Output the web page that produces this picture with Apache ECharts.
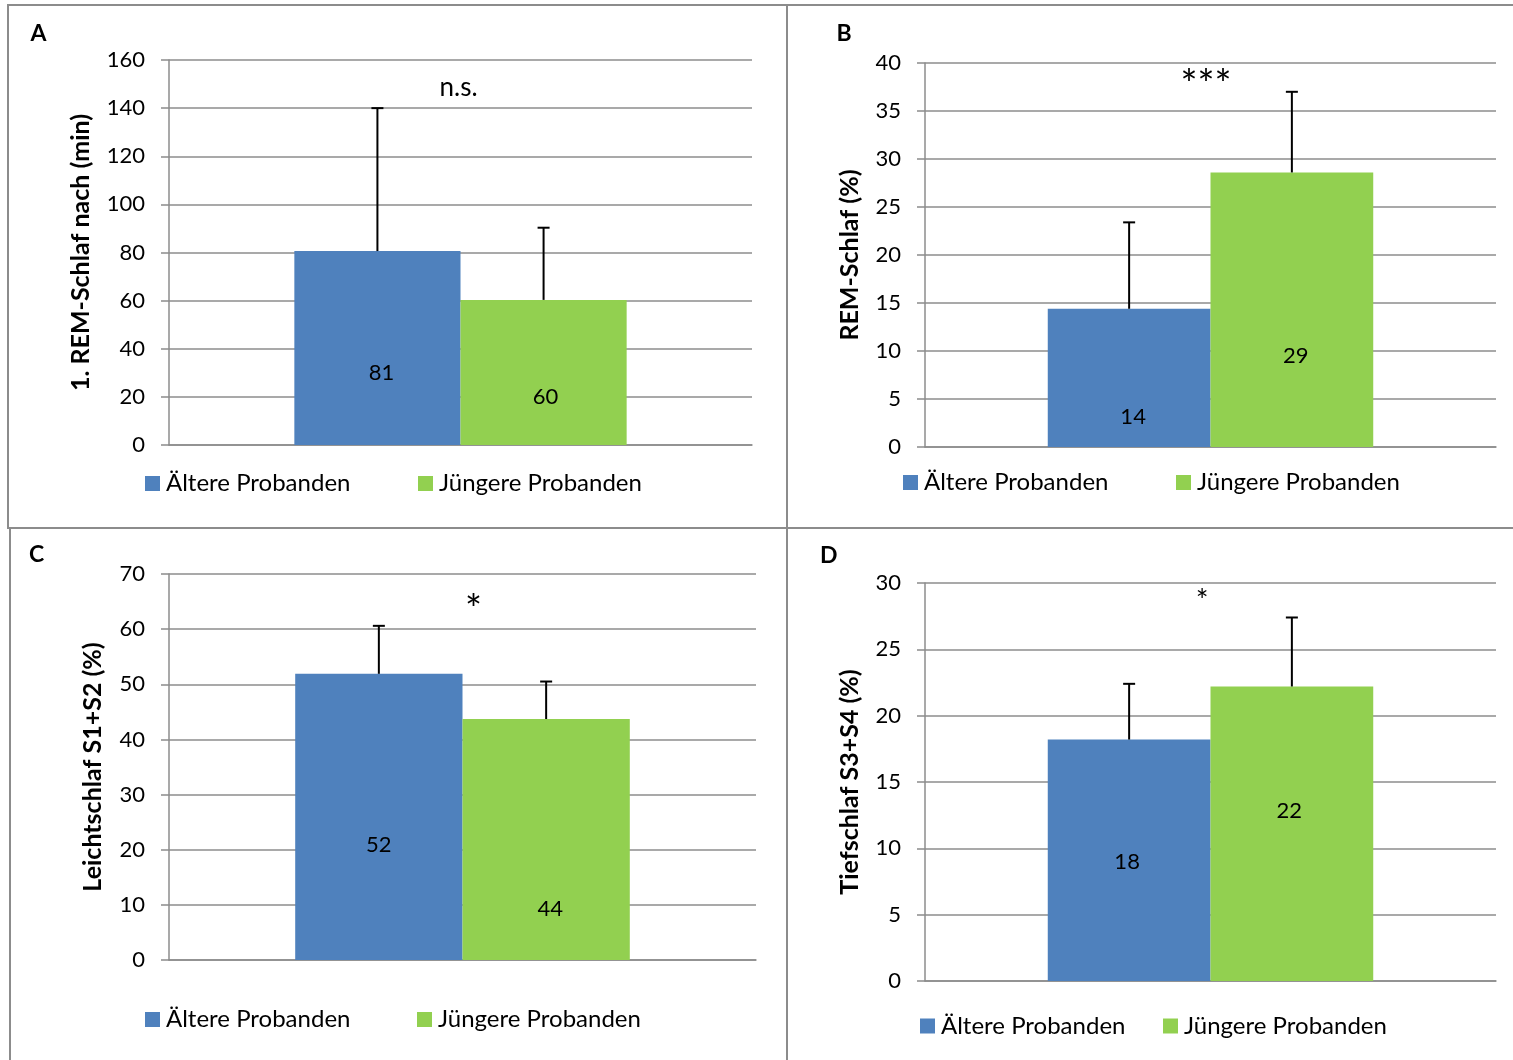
<!DOCTYPE html>
<html>
<head>
<meta charset="utf-8">
<script src="https://cdn.jsdelivr.net/npm/echarts@6/dist/echarts.min.js"></script>
<style>
html,body{margin:0;padding:0;background:#fff;}
#chart{width:1513px;height:1060px;}
</style>
</head>
<body>
<div id="chart"></div>
<script>
// ---- data ----
const categories = [''];
const seriesNames = ['Ältere Probanden', 'Jüngere Probanden'];
const panelLetters = ['A', 'B', 'C', 'D'];
const axisTitles = ['1. REM-Schlaf nach (min)', 'REM-Schlaf (%)', 'Leichtschlaf S1+S2 (%)', 'Tiefschlaf S3+S4 (%)'];
const yMax = [160, 40, 70, 30];
const yStep = [20, 5, 10, 5];
const aelterValues = [80.6, 14.4, 51.9, 18.2];
const juengerValues = [60.3, 28.6, 43.7, 22.2];
const aelterSD = [59.4, 9.0, 8.7, 4.2];
const juengerSD = [30.0, 8.4, 6.8, 5.2];
const significance = ['n.s.', '***', '*', '*'];

// ---- layout / style ----
const FONT = 'Lato';
const GRAY = '#8c8c8c';
const COLORS = ['#4F81BD', '#92D050'];
const GAP = 0.43;
const grids = [
  {left: 169, top: 60, width: 583, height: 385},
  {left: 925, top: 63, width: 571, height: 384},
  {left: 169, top: 574, width: 587, height: 386},
  {left: 925, top: 583, width: 571, height: 398}
];
const nameGaps = [76, 63, 64, 63];
const labelOffsets = [[[4, 24.5], [2, 24.5]], [[4, 39.5], [4, 46.5]], [[0, 28], [4, 69]], [[-2, 1.5], [-2.5, -22.5]]];
const legendPos = [[[145, 483.5], [418, 483.5]], [[903, 482.5], [1176, 482.5]], [[145, 1019.5], [417, 1019.5]], [[920, 1026], [1163, 1026]]];
const letterPos = [[39.5, 35.5], [845.5, 35.5], [38, 556.5], [829, 557]];
const sigPos = [[458.5, 88, 26], [1206, 86, 40], [473.5, 611, 40], [1202, 601, 30]];

const option = {
  animation: false,
  backgroundColor: '#fff',
  grid: grids.map(g => Object.assign({containLabel: false}, g)),
  xAxis: grids.map((g, i) => ({
    type: 'category', gridIndex: i, data: categories,
    axisLine: {show: true, lineStyle: {color: GRAY, width: 1.5}},
    axisTick: {show: false}, axisLabel: {show: false}, splitLine: {show: false}
  })),
  yAxis: grids.map((g, i) => ({
    type: 'value', gridIndex: i, min: 0, max: yMax[i], interval: yStep[i],
    name: axisTitles[i], nameLocation: 'middle', nameGap: nameGaps[i],
    nameTextStyle: {fontFamily: FONT, fontWeight: 'bold', fontSize: 25, color: '#000'},
    axisLine: {show: true, lineStyle: {color: GRAY, width: 1.5}},
    axisTick: {show: true, inside: false, length: 8, lineStyle: {color: GRAY, width: 1.5}},
    axisLabel: {margin: 24, fontFamily: FONT, fontSize: 22, color: '#000'},
    splitLine: {show: true, lineStyle: {color: GRAY, width: 1.5}}
  })),
  legend: [],
  series: [],
  graphic: []
};

const valueSets = [aelterValues, juengerValues];
const sdSets = [aelterSD, juengerSD];

for (let p = 0; p < 4; p++) {
  for (let s = 0; s < 2; s++) {
    option.series.push({
      type: 'bar', name: seriesNames[s], xAxisIndex: p, yAxisIndex: p,
      data: [valueSets[s][p]],
      barGap: '0%', barCategoryGap: (GAP * 100) + '%',
      itemStyle: {color: COLORS[s]},
      label: {
        show: true, position: 'inside', offset: labelOffsets[p][s],
        fontFamily: FONT, fontSize: 22, color: '#000',
        formatter: d => String(Math.round(d.value))
      },
      z: 2
    });
    const side = s === 0 ? -1 : 1;
    option.series.push({
      type: 'custom', name: seriesNames[s] + ' SD', xAxisIndex: p, yAxisIndex: p,
      data: [[0, valueSets[s][p], valueSets[s][p] + sdSets[s][p]]],
      encode: {x: 0, y: [1, 2]},
      z: 3, silent: true,
      renderItem: (params, api) => {
        const band = api.size([1, 0])[0];
        const barW = band * (1 - GAP) / 2;
        const cx = api.coord([0, 0])[0] + side * barW / 2;
        const y0 = api.coord([0, api.value(1)])[1];
        const y1 = api.coord([0, api.value(2)])[1];
        const st = {stroke: '#000', lineWidth: 2};
        return {type: 'group', children: [
          {type: 'line', shape: {x1: cx, y1: y0, x2: cx, y2: y1}, style: st},
          {type: 'line', shape: {x1: cx - 6, y1: y1, x2: cx + 6, y2: y1}, style: st}
        ]};
      }
    });
    option.legend.push({
      data: [seriesNames[s]], left: legendPos[p][s][0], top: legendPos[p][s][1] - 12,
      padding: 0, itemGap: 0, itemWidth: 15, itemHeight: 15, icon: 'rect',
      selectedMode: false,
      textStyle: {fontFamily: FONT, fontSize: 24, color: '#000', padding: [0, 0, 0, 1]}
    });
  }
  option.graphic.push({
    type: 'text', left: letterPos[p][0] - 9, top: letterPos[p][1] - 13,
    style: {text: panelLetters[p], font: 'bold 23px ' + FONT, fill: '#000'}
  });
  option.graphic.push({
    type: 'text', x: sigPos[p][0], y: sigPos[p][1],
    style: {text: significance[p], font: sigPos[p][2] + 'px ' + FONT, fill: '#000', textAlign: 'center', textVerticalAlign: 'middle'}
  });
}

// panel frames
const frames = [[8, 5, 779, 523], [787, 5, 740, 523], [10, 528, 777, 540], [787, 528, 740, 540]];
frames.forEach(f => option.graphic.push({
  type: 'rect', shape: {x: f[0], y: f[1], width: f[2], height: f[3]},
  style: {fill: 'none', stroke: GRAY, lineWidth: 2}, z: -10, silent: true
}));

const chart = echarts.init(document.getElementById('chart'), null, {renderer: 'canvas'});
chart.setOption(option);
</script>
</body>
</html>
